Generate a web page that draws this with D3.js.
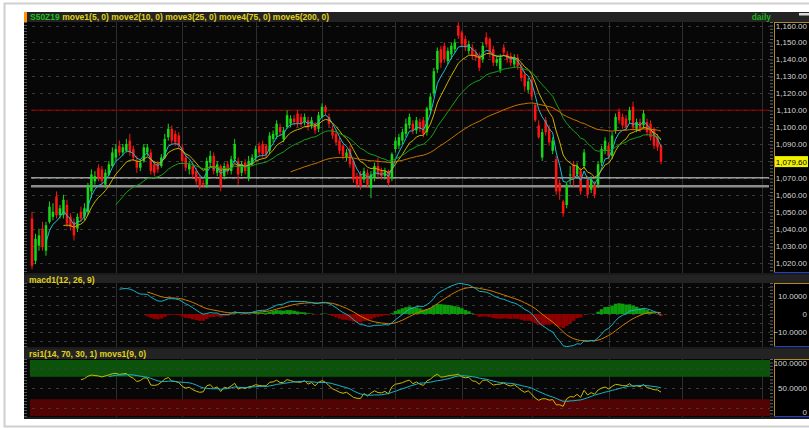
<!DOCTYPE html>
<html>
<head>
<meta charset="utf-8">
<script src="https://cdn.jsdelivr.net/npm/d3@7"></script>
<style>
html, body { margin: 0; padding: 0; background: #fff; }
svg { display: block; font-family: "Liberation Sans", Arial, sans-serif; }
</style>
</head>
<body>
<svg id="chart" width="809" height="428"></svg>
<script>
// daily candles S50Z19
var opens = [1046,1021,1030,1040,1027,1044,1047,1059,1048,1048,1054,1047,1044,1040,1050,1047,1050,1062,1068,1076,
  1075,1066,1072,1077,1082,1089,1085,1086,1092,1087,1080,1076,1080,1085,1085,1078,1078,1077,1082,1094,
  1099,1096,1095,1088,1082,1075,1077,1074,1070,1067,1066,1079,1083,1073,1077,1071,1078,1074,1081,1080,
  1073,1079,1070,1078,1082,1089,1090,1089,1086,1093,1095,1100,1093,1100,1102,1105,1108,1106,1103,1104,
  1101,1102,1099,1106,1112,1106,1099,1096,1092,1089,1082,1087,1080,1071,1072,1069,1073,1064,1070,1077,
  1074,1071,1074,1070,1087,1089,1092,1096,1101,1102,1098,1103,1104,1097,1110,1120,1134,1146,1148,1139,
  1143,1146,1160,1156,1152,1145,1147,1144,1142,1140,1153,1152,1146,1138,1134,1147,1143,1142,1137,1141,
  1136,1131,1122,1128,1113,1101,1082,1104,1099,1086,1081,1067,1056,1054,1072,1078,1072,1074,1077,1069,
  1063,1066,1066,1079,1086,1089,1083,1098,1109,1106,1105,1104,1112,1099,1103,1101,1103,1102,1099,1094,
  1089];
var highs = [1050,1037,1040,1044,1044,1056,1055,1062,1054,1060,1057,1049,1046,1049,1053,1055,1067,1075,1074,1078,
  1077,1075,1080,1088,1090,1092,1090,1093,1096,1089,1083,1081,1090,1090,1087,1080,1080,1084,1096,1102,
  1101,1098,1097,1090,1084,1080,1079,1076,1072,1069,1082,1086,1085,1080,1078,1079,1080,1083,1093,1082,
  1080,1081,1083,1084,1089,1091,1092,1090,1097,1098,1104,1102,1100,1110,1107,1107,1110,1108,1108,1106,
  1106,1103,1109,1114,1113,1108,1101,1098,1094,1090,1087,1089,1081,1073,1074,1076,1075,1074,1079,1082,
  1076,1076,1075,1085,1094,1096,1099,1105,1108,1104,1106,1105,1106,1112,1120,1135,1147,1148,1150,1147,
  1150,1152,1162,1157,1154,1151,1149,1146,1144,1150,1156,1153,1148,1142,1143,1149,1145,1144,1143,1143,
  1138,1133,1129,1130,1114,1104,1099,1106,1101,1094,1083,1069,1057,1067,1077,1080,1079,1076,1087,1071,
  1071,1068,1080,1089,1094,1091,1097,1108,1111,1108,1107,1112,1115,1105,1105,1110,1105,1104,1100,1096,
  1090];
var lows = [1016,1019,1027,1027,1024,1043,1045,1046,1046,1046,1041,1039,1033,1038,1044,1045,1048,1058,1066,1068,
  1066,1064,1071,1076,1080,1083,1083,1085,1083,1080,1073,1074,1079,1083,1072,1071,1073,1076,1081,1092,
  1090,1089,1087,1078,1074,1072,1070,1066,1063,1064,1064,1077,1072,1071,1062,1069,1072,1072,1079,1066,
  1071,1072,1068,1077,1080,1083,1082,1082,1084,1091,1093,1095,1091,1099,1100,1101,1100,1100,1101,1098,
  1099,1096,1097,1105,1107,1100,1093,1089,1084,1081,1080,1076,1067,1064,1063,1067,1064,1058,1068,1070,
  1069,1069,1065,1068,1085,1087,1090,1094,1099,1096,1096,1097,1094,1095,1108,1118,1132,1135,1138,1137,
  1140,1144,1152,1147,1145,1143,1140,1139,1133,1138,1147,1141,1136,1136,1132,1142,1138,1136,1135,1134,
  1127,1121,1120,1116,1103,1093,1080,1095,1089,1084,1060,1057,1047,1052,1066,1065,1070,1060,1075,1058,
  1061,1058,1064,1077,1084,1081,1081,1096,1102,1099,1098,1102,1098,1097,1097,1099,1095,1092,1087,1086,
  1078];
var closes = [1018,1034,1036,1029,1042,1053,1050,1048,1052,1057,1043,1041,1036,1047,1046,1052,1065,1072,1071,1070,
  1068,1073,1078,1085,1087,1085,1088,1090,1085,1082,1076,1079,1088,1088,1074,1073,1075,1082,1093,1099,
  1092,1091,1089,1080,1076,1078,1072,1068,1065,1066,1080,1083,1074,1078,1065,1077,1074,1081,1090,1072,
  1078,1074,1080,1082,1087,1085,1084,1084,1095,1096,1102,1097,1098,1107,1105,1103,1102,1102,1106,1100,
  1104,1098,1107,1112,1109,1102,1095,1091,1086,1083,1085,1078,1069,1066,1065,1074,1066,1072,1077,1072,
  1071,1074,1067,1084,1092,1094,1097,1102,1106,1098,1104,1099,1096,1111,1118,1133,1145,1138,1140,1145,
  1148,1150,1154,1149,1147,1149,1142,1141,1135,1148,1149,1144,1138,1140,1141,1144,1140,1138,1141,1136,
  1129,1124,1127,1118,1104,1094,1097,1097,1091,1092,1062,1062,1049,1066,1072,1070,1077,1062,1085,1060,
  1069,1060,1078,1087,1092,1083,1095,1106,1104,1101,1100,1110,1100,1103,1099,1108,1097,1094,1089,1088,
  1079.6];

// bar index where each month begins (solid vertical grid)
var monthStarts = [24, 43, 64, 83, 104, 123, 143, 165, 186, 209];
var priceTicks = d3.range(1020, 1161, 10);
var macdTicks = [10, 0, -10];
var rsiTicks = [100, 50, 0];
var refLevels = [1110, 1070, 1065];
var maPeriods = [5, 10, 25, 75, 200];
var lastPrice = 1079.6;

var svg = d3.select("#chart");

// panel geometry
var plotLeft = 28, axisLeft = 774, W = 809;
var price = {top: 22, bottom: 273, head: 12};
var macdP = {top: 283, bottom: 347, head: 275};
var rsiP = {top: 359, bottom: 417, head: 349};

var x = d3.scaleLinear().domain([0, 180]).range([32, 661]);
var y = d3.scaleLinear().domain([1020, 1160]).range([262.5, 25.5]);
var ym = d3.scaleLinear().domain([-10, 10]).range([332, 296]);
var yr = d3.scaleLinear().domain([0, 100]).range([416, 360]);

// ---- indicators
function sma(arr, n) {
  return arr.map(function(d, i) {
    if (i < n - 1) return null;
    var s = 0;
    for (var k = i - n + 1; k <= i; k++) { if (arr[k] == null) return null; s += arr[k]; }
    return s / n;
  });
}
// exponential average, seeded with the simple average of the first n values
function emaSeeded(arr, n) {
  var a = 2 / (n + 1), seed = sma(arr, n), out = [], prev = null;
  arr.forEach(function(d, i) {
    if (prev == null) { prev = seed[i]; out.push(prev); return; }
    prev = prev + a * (d - prev);
    out.push(prev);
  });
  return out;
}
function ema(arr, n, start) {
  var a = 2 / (n + 1), out = [], prev = null;
  arr.forEach(function(d, i) {
    if (i < start || d == null) { out.push(null); return; }
    prev = prev == null ? d : prev + a * (d - prev);
    out.push(prev);
  });
  return out;
}
var e12 = ema(closes, 12, 0), e26 = ema(closes, 26, 0);
var macd = closes.map(function(d, i) { return i >= 25 ? e12[i] - e26[i] : null; });
var signal = ema(macd, 9, 25).map(function(d, i) { return i >= 33 ? d : null; });
var hist = macd.map(function(d, i) { return signal[i] == null ? null : {i: i, v: d - signal[i]}; })
  .filter(function(d) { return d != null; });

var rsi = closes.map(function() { return null; });
(function() {
  var g = 0, l = 0;
  for (var i = 1; i <= 14; i++) {
    var ch = closes[i] - closes[i - 1];
    if (ch > 0) g += ch; else l -= ch;
  }
  g /= 14; l /= 14;
  rsi[14] = 100 - 100 / (1 + g / l);
  for (var j = 15; j < closes.length; j++) {
    var c = closes[j] - closes[j - 1];
    g = (g * 13 + Math.max(c, 0)) / 14;
    l = (l * 13 + Math.max(-c, 0)) / 14;
    rsi[j] = 100 - 100 / (1 + g / l);
  }
})();
var rsiSig = sma(rsi, 9);

// ---- frame
svg.append("rect").attr("width", W).attr("height", 428).attr("fill", "#fff");
svg.append("path").attr("d", "M813,3.5H4.5V426.5H813").attr("fill", "none")
  .attr("stroke", "#cfcfcf").attr("stroke-width", 2);
svg.append("rect").attr("x", 24).attr("y", 12).attr("width", W - 24).attr("height", 407).attr("fill", "#1b1b1b");

function panel(p, title) {
  svg.append("rect").attr("x", 24).attr("y", p.head).attr("width", W - 24).attr("height", p.top - p.head)
    .attr("fill", "#232323");
  svg.append("rect").attr("x", 24).attr("y", p.top).attr("width", axisLeft - 24).attr("height", p.bottom - p.top)
    .attr("fill", "#070707");
  svg.append("rect").attr("x", axisLeft).attr("y", p.top).attr("width", W - axisLeft).attr("height", p.bottom - p.top)
    .attr("fill", "#000");
  // month grid
  svg.append("g").selectAll("line").data(monthStarts).join("line")
    .attr("x1", function(d) { return Math.round(x(d)) + 0.5; })
    .attr("x2", function(d) { return Math.round(x(d)) + 0.5; })
    .attr("y1", p.top).attr("y2", p.bottom).attr("stroke", "#2e2e2e");
  // left ruler
  svg.append("line").attr("x1", 25.5).attr("x2", 25.5).attr("y1", p.top).attr("y2", p.bottom)
    .attr("stroke", "#555").attr("stroke-width", 3).attr("stroke-dasharray", "1,2");
  // axis frame
  svg.append("line").attr("x1", axisLeft + 0.5).attr("x2", axisLeft + 0.5).attr("y1", p.top).attr("y2", p.bottom)
    .attr("stroke", "#b08a2a");
  svg.append("line").attr("x1", axisLeft).attr("x2", W).attr("y1", p.top + 0.5).attr("y2", p.top + 0.5)
    .attr("stroke", "#b08a2a");
  svg.append("line").attr("x1", axisLeft).attr("x2", W).attr("y1", p.bottom - 0.5).attr("y2", p.bottom - 0.5)
    .attr("stroke", "#2040d0");
  svg.append("line").attr("x1", axisLeft - 2.5).attr("x2", axisLeft - 2.5).attr("y1", p.top).attr("y2", p.bottom)
    .attr("stroke", "#666").attr("stroke-width", 3).attr("stroke-dasharray", "1,2.4");
  if (title) {
    svg.append("text").attr("x", 29).attr("y", p.head + 7.5).attr("fill", "#e0d21c")
      .attr("font-size", "8.5px").attr("font-weight", "bold").text(title);
  }
}

function hGrid(vals, scale) {
  svg.append("g").selectAll("line").data(vals).join("line")
    .attr("x1", plotLeft + 4).attr("x2", axisLeft - 4)
    .attr("y1", function(d) { return Math.round(scale(d)) + 0.5; })
    .attr("y2", function(d) { return Math.round(scale(d)) + 0.5; })
    .attr("stroke", "#3a3a3a").attr("stroke-dasharray", "3,5");
}

function labels(vals, scale, fmt, p) {
  svg.append("g").selectAll("text").data(vals).join("text")
    .attr("x", 807).attr("text-anchor", "end")
    .attr("y", function(d) { return Math.min(Math.max(scale(d) + 3, p.top + 7), p.bottom - 2); })
    .attr("fill", "#d4d4d4").attr("font-size", "8px").text(fmt);
}

// ---- price panel
panel(price, null);
svg.append("rect").attr("x", 24).attr("y", 12).attr("width", 3).attr("height", 10).attr("fill", "#ff9400");
var head = svg.append("text").attr("x", 30).attr("y", 19.5).attr("font-size", "8.5px").attr("font-weight", "bold");
head.append("tspan").attr("fill", "#1fbf1f").text("S50Z19 ");
head.append("tspan").attr("fill", "#e0d21c").text("move1(5, 0) move2(10, 0) move3(25, 0) move4(75, 0) move5(200, 0)");
svg.append("text").attr("x", 771).attr("y", 19.5).attr("text-anchor", "end").attr("font-size", "8.5px")
  .attr("font-weight", "bold").attr("fill", "#1fb01f").text("daily");
svg.append("rect").attr("x", 799).attr("y", 13).attr("width", 10).attr("height", 2.5).attr("fill", "#d8d8d8");

hGrid(priceTicks, y);
labels(priceTicks, y, d3.format(",.2f"), price);

var refColors = ["#a00000", "#e8e8e8", "#8c8c8c"], refW = [1, 1, 2.5];
svg.append("g").selectAll("line").data(refLevels).join("line")
  .attr("x1", plotLeft + 3).attr("x2", axisLeft - 5)
  .attr("y1", function(d) { return y(d); }).attr("y2", function(d) { return y(d); })
  .attr("stroke", function(d, i) { return refColors[i]; })
  .attr("stroke-width", function(d, i) { return refW[i]; });

var upC = "#17d817", dnC = "#ff1414";
var candles = svg.append("g");
candles.selectAll("line").data(closes).join("line")
  .attr("x1", function(d, i) { return x(i); }).attr("x2", function(d, i) { return x(i); })
  .attr("y1", function(d, i) { return y(highs[i]); }).attr("y2", function(d, i) { return y(lows[i]); })
  .attr("stroke", function(d, i) { return d >= opens[i] ? upC : dnC; });
candles.selectAll("rect").data(closes).join("rect")
  .attr("x", function(d, i) { return x(i) - 1.25; }).attr("width", 2.5)
  .attr("y", function(d, i) { return y(Math.max(d, opens[i])); })
  .attr("height", function(d, i) { return Math.max(1, Math.abs(y(d) - y(opens[i]))); })
  .attr("fill", function(d, i) { return d >= opens[i] ? upC : dnC; });

var maColors = ["#20bcd4", "#c9b300", "#16a016", "#c87400", "#b0b0b0"];
var line = d3.line().defined(function(d) { return d != null; })
  .x(function(d, i) { return x(i); });
maPeriods.forEach(function(n, k) {
  var vals = emaSeeded(closes, n);
  svg.append("path").datum(vals).attr("fill", "none").attr("stroke", maColors[k]).attr("stroke-width", 1)
    .attr("d", line.y(function(d) { return y(d); }));
});

svg.append("rect").attr("x", 775).attr("y", y(lastPrice) - 5.5).attr("width", 33).attr("height", 11).attr("fill", "#f2f200");
svg.append("text").attr("x", 807).attr("y", y(lastPrice) + 3).attr("text-anchor", "end").attr("font-size", "8px")
  .attr("fill", "#000").text(d3.format(",.2f")(lastPrice));

// ---- MACD panel
panel(macdP, "macd1(12, 26, 9)");
hGrid([15, 10, 5, 0, -5, -10, -15], ym);
labels(macdTicks, ym, function(d) { return d === 0 ? "0" : d3.format(".4f")(d); }, macdP);
svg.append("g").selectAll("rect").data(hist).join("rect")
  .attr("x", function(d) { return x(d.i) - 1.75; }).attr("width", 3.6)
  .attr("y", function(d) { return Math.min(ym(0), ym(d.v)); })
  .attr("height", function(d) { return Math.abs(ym(d.v) - ym(0)); })
  .attr("fill", function(d) { return d.v >= 0 ? "#0c9c0c" : "#8c0000"; });
svg.append("path").datum(signal).attr("fill", "none").attr("stroke", "#d07c00")
  .attr("d", line.y(function(d) { return ym(d); }));
svg.append("path").datum(macd).attr("fill", "none").attr("stroke", "#1ab2c8")
  .attr("d", line.y(function(d) { return ym(d); }));

// ---- RSI panel
panel(rsiP, "rsi1(14, 70, 30, 1) movs1(9, 0)");
svg.append("rect").attr("x", plotLeft + 2).attr("y", yr(100)).attr("width", axisLeft - plotLeft - 6)
  .attr("height", yr(70) - yr(100)).attr("fill", "#0b530b");
svg.append("rect").attr("x", plotLeft + 2).attr("y", yr(30)).attr("width", axisLeft - plotLeft - 6)
  .attr("height", yr(0) - yr(30)).attr("fill", "#520303");
hGrid([85, 50, 15], yr);
labels(rsiTicks, yr, function(d) { return d === 0 ? "0" : d3.format(".4f")(d); }, rsiP);
svg.append("path").datum(rsi).attr("fill", "none").attr("stroke", "#c8bc00")
  .attr("d", line.y(function(d) { return yr(d); }));
svg.append("path").datum(rsiSig).attr("fill", "none").attr("stroke", "#1ab2c8")
  .attr("d", line.y(function(d) { return yr(d); }));
</script>
</body>
</html>
